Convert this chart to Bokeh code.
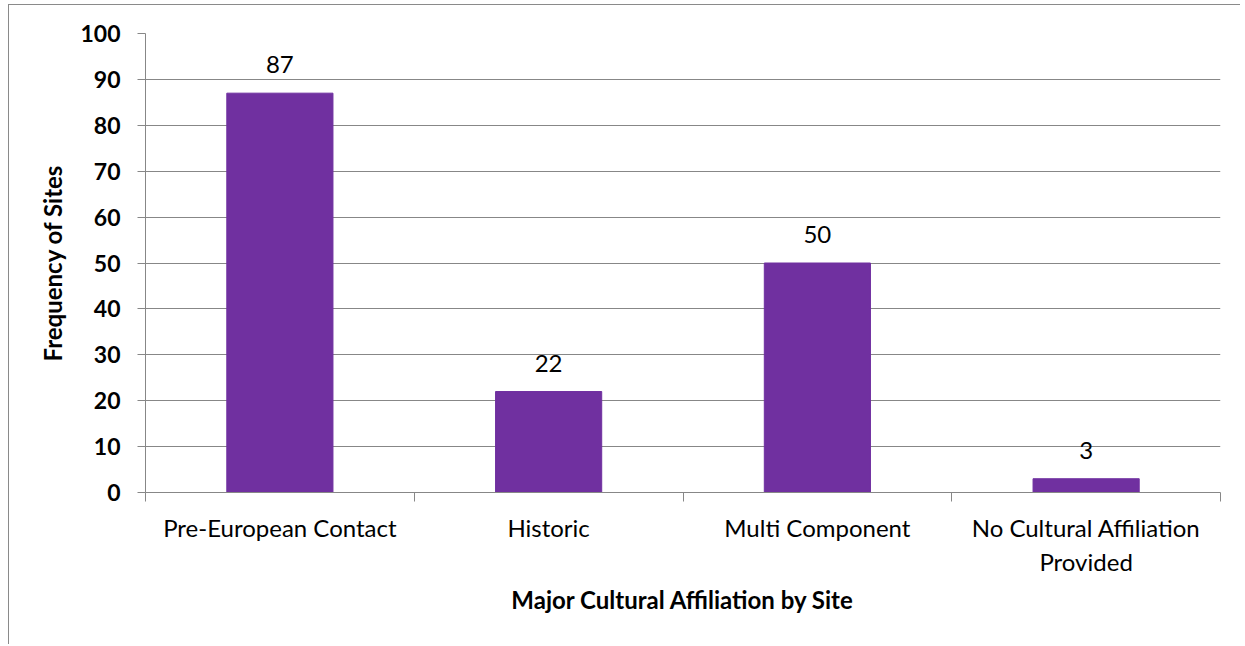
from bokeh.plotting import figure
from bokeh.models import ColumnDataSource, FixedTicker, LabelSet, Range1d
from bokeh.core.properties import value
from bokeh.embed import file_html
from bokeh.resources import INLINE

categories = ["Pre-European Contact", "Historic", "Multi Component", "No Cultural Affiliation\nProvided"]
frequencies = [87, 22, 50, 3]
y_ticks = [0, 10, 20, 30, 40, 50, 60, 70, 80, 90, 100]

centers = [i + 0.5 for i in range(len(categories))]
source = ColumnDataSource(dict(x=centers, top=frequencies, label=[str(v) for v in frequencies]))

FONT = "Lato"
GRAY = "#878787"

p = figure(
    frame_width=1075, frame_height=459,
    min_border_left=136, min_border_top=28, min_border_right=20, min_border_bottom=152,
    x_range=Range1d(0, len(categories)), y_range=Range1d(0, 100),
    output_backend="svg", toolbar_location=None,
)
p.styles = {"margin-left": "8px", "margin-top": "4px",
            "border-left": "1px solid #8a8a8a", "border-top": "1px solid #8a8a8a"}
p.outline_line_color = None
p.background_fill_color = "white"

p.vbar(x="x", top="top", width=0.395, source=source, fill_color="#7030A0", line_color="#7030A0")

labels = LabelSet(x="x", y="top", text="label", source=source, text_align="center",
                  text_baseline="alphabetic", y_offset=20, text_font=value(FONT),
                  text_font_size="24px", text_color="#000000")
p.add_layout(labels)

# y axis
p.yaxis.ticker = FixedTicker(ticks=y_ticks)
p.yaxis.axis_line_color = GRAY
p.yaxis.major_tick_line_color = GRAY
p.yaxis.major_tick_out = 8
p.yaxis.major_tick_in = 0
p.yaxis.minor_tick_line_color = None
p.yaxis.major_label_text_font = FONT
p.yaxis.major_label_text_font_style = "bold"
p.yaxis.major_label_text_font_size = "23px"
p.yaxis.major_label_text_color = "#000000"
p.yaxis.major_label_standoff = 17
p.yaxis.axis_label = "Frequency of Sites"
p.yaxis.axis_label_text_font = FONT
p.yaxis.axis_label_text_font_style = "bold"
p.yaxis.axis_label_text_font_size = "24px"
p.yaxis.axis_label_text_color = "#000000"
p.yaxis.axis_label_standoff = 10

# x axis
p.xaxis.ticker = FixedTicker(ticks=centers, minor_ticks=list(range(len(categories) + 1)))
p.xaxis.major_label_overrides = {c: lab for c, lab in zip(centers, categories)}
p.xaxis.axis_line_color = GRAY
p.xaxis.major_tick_line_color = None
p.xaxis.minor_tick_line_color = GRAY
p.xaxis.minor_tick_out = 9
p.xaxis.minor_tick_in = 0
p.xaxis.major_label_text_font = FONT
p.xaxis.major_label_text_font_size = "24px"
p.xaxis.major_label_text_color = "#000000"
p.xaxis.major_label_standoff = 11
p.xaxis.axis_label = "Major Cultural Affiliation by Site"
p.xaxis.axis_label_text_font = FONT
p.xaxis.axis_label_text_font_style = "bold"
p.xaxis.axis_label_text_font_size = "24px"
p.xaxis.axis_label_text_color = "#000000"
p.xaxis.axis_label_standoff = 6

p.xgrid.grid_line_color = None
p.ygrid.ticker = FixedTicker(ticks=y_ticks)
p.ygrid.grid_line_color = GRAY
p.ygrid.grid_line_width = 1

open("out.html", "w").write(file_html(p, INLINE))
